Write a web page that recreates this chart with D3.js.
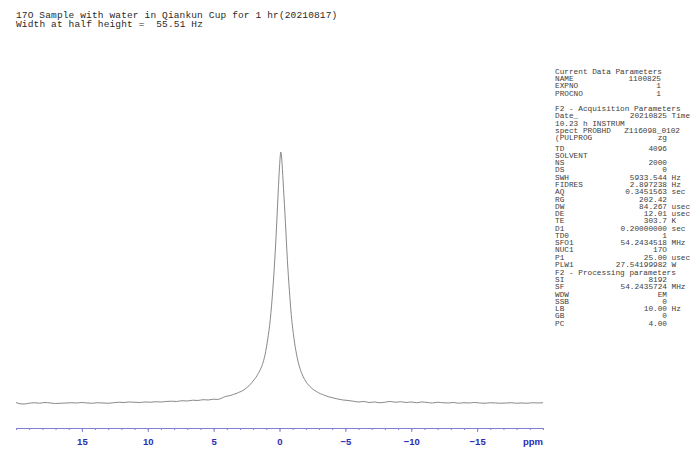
<!DOCTYPE html>
<html>
<head>
<meta charset="utf-8">
<script src="https://cdn.jsdelivr.net/npm/d3@7"></script>
<style>
  html, body { margin: 0; padding: 0; background: #fff; }
  svg { display: block; }
</style>
</head>
<body>
<svg id="chart" width="700" height="463"></svg>
<script>
// ---- data ----
const titleLines = [
  "17O Sample with water in Qiankun Cup for 1 hr(20210817)",
  "Width at half height =  55.51 Hz"
];

const spectrumPpm = [
  20.0, 19.7, 19.4, 19.0, 18.6, 18.2, 17.8, 17.4, 17.0, 16.6, 16.2, 15.8, 15.4, 15.0,
  14.6, 14.2, 13.8, 13.4, 13.0, 12.6, 12.2, 11.8, 11.4, 11.0, 10.6, 10.2, 9.8, 9.4,
  9.0, 8.6, 8.2, 7.8, 7.4, 7.0, 6.6, 6.2, 5.8, 5.4, 5.0, 4.7, 4.4, 4.1, 3.9, 3.7,
  3.5, 3.3, 3.1, 2.9, 2.7, 2.5, 2.3, 2.1, 1.9, 1.7, 1.5, 1.3, 1.1, 0.9, 0.7, 0.5,
  0.35, 0.2, 0.1, 0.0, -0.1, -0.2, -0.3, -0.45, -0.6, -0.75, -0.9, -1.1, -1.3, -1.5,
  -1.7, -1.9, -2.1, -2.3, -2.5, -2.8, -3.1, -3.4, -3.7, -4.0, -4.4, -4.8, -5.2, -5.6,
  -6.0, -6.4, -6.8, -7.2, -7.6, -8.0, -8.4, -8.8, -9.2, -9.6, -10.0, -10.4, -10.8,
  -11.2, -11.6, -12.0, -12.4, -12.8, -13.2, -13.6, -14.0, -14.4, -14.8, -15.2, -15.6,
  -16.0, -16.4, -16.8, -17.2, -17.6, -18.0, -18.4, -18.8, -19.2, -19.6, -20.0
];
const spectrumIntensity = [
  0.6, 0.1, 0.0, 0.3, 0.5, 0.3, 0.6, 0.4, 0.2, 0.3, 0.4, 0.5, 0.4, 0.6,
  0.4, 0.3, 0.5, 0.4, 0.3, 0.5, 0.7, 0.6, 0.8, 0.7, 0.6, 0.8, 0.7, 0.9,
  0.8, 1.0, 1.1, 1.0, 1.3, 1.2, 1.5, 1.4, 1.7, 1.6, 1.9, 1.8, 2.3, 3.0, 3.2, 3.4,
  3.8, 4.1, 4.6, 5.0, 5.6, 6.4, 7.3, 8.5, 9.8, 11.3, 13.2, 15.6, 19.5, 25.5, 33.5, 46,
  58, 73, 84, 94, 100, 95, 86, 72, 57, 45, 35, 26, 19.5, 15,
  12, 9.8, 8.2, 7.0, 6.0, 5.0, 4.1, 3.5, 2.9, 2.5, 2.0, 1.6, 1.4, 1.1,
  0.8, 1.0, 0.6, 0.8, 0.5, 0.7, 1.0, 0.7, 0.9, 0.6, 0.8, 0.5, 0.8,
  0.6, 0.4, 0.7, 0.5, 0.4, 0.6, 0.3, 0.5, 0.4, 0.6, 0.4, 0.3,
  0.5, 0.4, 0.3, 0.4, 0.5, 0.3, 0.4, 0.3, 0.5, 0.4, 0.5
];

const majorTicks = [15, 10, 5, 0, -5, -10, -15];
const minorTicks = d3.range(20, -21, -1);
const axisUnit = "ppm";

// parameter listing: [label, value, unit]
const paramBlock1Header = "Current Data Parameters";
const paramBlock1 = [["NAME", "1100825", ""], ["EXPNO", "1", ""], ["PROCNO", "1", ""]];
const paramBlock2Header = "F2 - Acquisition Parameters";
const paramBlock2a = [
  ["Date_", "20210825", "Time"],
  ["10.23 h INSTRUM", "", ""],
  ["spect PROBHD", "Z116098_0102", ""],
  ["(PULPROG", "zg", ""]
];
const paramBlock2b = [
  ["TD", "4096", ""], ["SOLVENT", "", ""], ["NS", "2000", ""], ["DS", "0", ""],
  ["SWH", "5933.544", "Hz"], ["FIDRES", "2.897238", "Hz"], ["AQ", "0.3451563", "sec"],
  ["RG", "202.42", ""], ["DW", "84.267", "usec"], ["DE", "12.01", "usec"],
  ["TE", "303.7", "K"], ["D1", "0.20000000", "sec"], ["TD0", "1", ""],
  ["SFO1", "54.2434518", "MHz"], ["NUC1", "17O", ""], ["P1", "25.00", "usec"],
  ["PLW1", "27.54199982", "W"]
];
const paramBlock3Header = "F2 - Processing parameters";
const paramBlock3 = [
  ["SI", "8192", ""], ["SF", "54.2435724", "MHz"], ["WDW", "EM", ""], ["SSB", "0", ""],
  ["LB", "10.00", "Hz"], ["GB", "0", ""], ["PC", "4.00", ""]
];

// ---- drawing ----
const svg = d3.select("#chart");
const mono = "'Liberation Mono', 'DejaVu Sans Mono', monospace";

const x = d3.scaleLinear().domain([20, -20]).range([16, 543]);
const y = d3.scaleLinear().domain([0, 100]).range([404, 152]);

// title
svg.selectAll("text.title").data(titleLines).enter().append("text")
  .attr("class", "title")
  .attr("x", 16).attr("y", (d, i) => 17.6 + i * 9.6)
  .attr("font-family", mono).attr("font-size", 9.5)
  .attr("fill", "#2a2a2a")
  .attr("textLength", d => d.length * 5.84)
  .attr("lengthAdjust", "spacing")
  .attr("xml:space", "preserve")
  .text(d => d);

// spectrum
const pts = spectrumPpm.map((p, i) => [p, spectrumIntensity[i]]);
svg.append("path")
  .datum(pts)
  .attr("fill", "none")
  .attr("stroke", "#7a7a7a")
  .attr("stroke-width", 0.9)
  .attr("d", d3.line().x(d => x(d[0])).y(d => y(d[1])).curve(d3.curveMonotoneX));

// axis
const axisY = 428;
const axisColor = "#8080d8";
const labelColor = "#2c2cb4";
const minorG = svg.append("g").attr("transform", `translate(0,${axisY})`)
  .call(d3.axisBottom(x).tickValues(minorTicks).tickSize(2).tickSizeOuter(0).tickFormat(""));
const majorG = svg.append("g").attr("transform", `translate(0,${axisY})`)
  .call(d3.axisBottom(x).tickValues(majorTicks).tickSize(4).tickSizeOuter(0).tickPadding(6)
    .tickFormat(d => d < 0 ? "\u2212" + Math.abs(d) : String(d)));
[minorG, majorG].forEach(g => {
  g.select(".domain").attr("stroke", axisColor).attr("stroke-width", 1);
  g.selectAll(".tick line").attr("stroke", axisColor).attr("stroke-width", 1);
});
majorG.selectAll(".tick text")
  .attr("fill", labelColor)
  .attr("font-family", "'Liberation Sans', Arial, sans-serif")
  .attr("font-weight", "bold")
  .attr("font-size", 9.5);
svg.append("text")
  .attr("x", x(-20)).attr("y", axisY + 10).attr("dy", "0.71em")
  .attr("text-anchor", "end")
  .attr("fill", labelColor)
  .attr("font-family", "'Liberation Sans', Arial, sans-serif")
  .attr("font-weight", "bold")
  .attr("font-size", 9.5)
  .text(axisUnit);

// parameter listing
const pg = svg.append("g")
  .attr("font-family", mono).attr("font-size", 7.75).attr("fill", "#404040");
const labelX = 555, valueEnd1 = 661, valueEnd = 667, unitX = 671.5;
function header(txt, yy) {
  pg.append("text").attr("x", labelX).attr("y", yy).attr("dominant-baseline", "middle").text(txt);
}
function rows(list, y0, step, vEnd) {
  list.forEach((r, i) => {
    const yy = y0 + i * step;
    pg.append("text").attr("x", labelX).attr("y", yy).attr("dominant-baseline", "middle").text(r[0]);
    const ve = r[1].length > 10 && !r[2] ? 680 : vEnd;
    if (r[1]) pg.append("text").attr("x", ve).attr("y", yy).attr("text-anchor", "end")
      .attr("dominant-baseline", "middle").text(r[1]);
    if (r[2]) pg.append("text").attr("x", unitX).attr("y", yy)
      .attr("dominant-baseline", "middle").text(r[2]);
  });
}
header(paramBlock1Header, 72);
rows(paramBlock1, 79.2, 7.2, valueEnd1);
header(paramBlock2Header, 109);
rows(paramBlock2a, 116.3, 7.25, valueEnd);
rows(paramBlock2b, 148.5, 7.28, valueEnd);
header(paramBlock3Header, 272.6);
rows(paramBlock3, 279.9, 7.28, valueEnd);
</script>
</body>
</html>
